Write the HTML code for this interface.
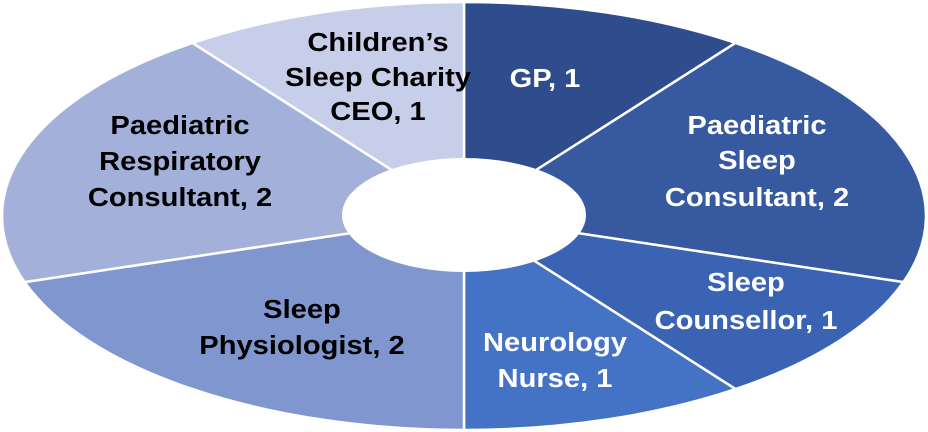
<!DOCTYPE html>
<html><head><meta charset="utf-8"><style>
html,body{margin:0;padding:0;background:#fff;width:928px;height:432px;overflow:hidden}
text{font-family:"Liberation Sans",Arial,sans-serif;font-weight:bold;font-size:26px}
</style></head><body>
<svg width="928" height="432" viewBox="0 0 928 432" xmlns="http://www.w3.org/2000/svg">
<g stroke="#fff" stroke-width="2.5" stroke-linejoin="round">
<path d="M464,216 L464,2 A462 214 0 0 1 735.5,42.9 Z" fill="#2F4C8C"/>
<path d="M464,216 L735.5,42.9 A462 214 0 0 1 903.4,282.1 Z" fill="#3659A0"/>
<path d="M464,216 L903.4,282.1 A462 214 0 0 1 735.5,389.1 Z" fill="#3B63B3"/>
<path d="M464,216 L735.5,389.1 A462 214 0 0 1 464,430 Z" fill="#4472C4"/>
<path d="M464,216 L464,430 A462 214 0 0 1 24.6,282.1 Z" fill="#7F97CE"/>
<path d="M464,216 L24.6,282.1 A462 214 0 0 1 192.5,42.9 Z" fill="#A3B1DA"/>
<path d="M464,216 L192.5,42.9 A462 214 0 0 1 464,2 Z" fill="#C6CEE9"/>
</g>
<ellipse cx="464" cy="215" rx="122" ry="57" fill="#fff"/>
<g text-anchor="middle" fill="#000">
<text transform="translate(378,51) scale(1.12,1)">Children’s</text>
<text transform="translate(378,86) scale(1.12,1)">Sleep Charity</text>
<text transform="translate(378,120) scale(1.12,1)">CEO, 1</text>
<text transform="translate(180,134) scale(1.12,1)">Paediatric</text>
<text transform="translate(180,170) scale(1.12,1)">Respiratory</text>
<text transform="translate(180,206) scale(1.12,1)">Consultant, 2</text>
<text transform="translate(302,318) scale(1.12,1)">Sleep</text>
<text transform="translate(302,354) scale(1.12,1)">Physiologist, 2</text>
</g>
<g text-anchor="middle" fill="#fff">
<text transform="translate(545,87) scale(1.12,1)">GP, 1</text>
<text transform="translate(757,134) scale(1.12,1)">Paediatric</text>
<text transform="translate(757,169) scale(1.12,1)">Sleep</text>
<text transform="translate(757,206) scale(1.12,1)">Consultant, 2</text>
<text transform="translate(746,291) scale(1.12,1)">Sleep</text>
<text transform="translate(746,329) scale(1.12,1)">Counsellor, 1</text>
<text transform="translate(555,351) scale(1.12,1)">Neurology</text>
<text transform="translate(555,387) scale(1.12,1)">Nurse, 1</text>
</g>
</svg>
</body></html>
